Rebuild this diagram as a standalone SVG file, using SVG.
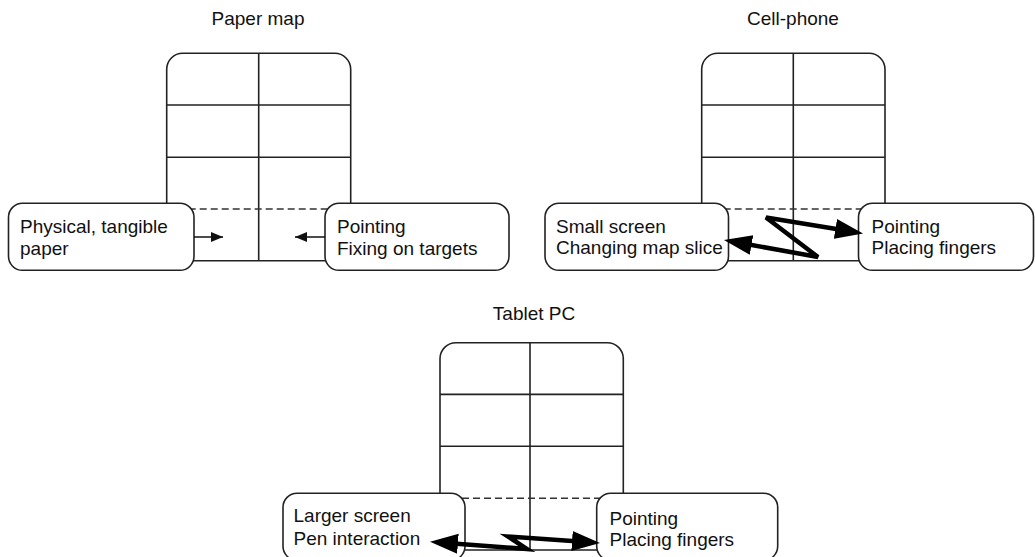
<svg xmlns="http://www.w3.org/2000/svg" width="1035" height="557" viewBox="0 0 1035 557">
  <style>
    .title { font-family: "Liberation Sans", Arial, sans-serif; font-size: 19px; fill: #111; }
    .label { font-family: "Liberation Sans", Arial, sans-serif; font-size: 19px; fill: #111; }
    .map { fill: #fff; stroke: #222; stroke-width: 1.6; }
    .grid { stroke: #222; stroke-width: 1.6; fill: none; }
    .fold { stroke: #333; stroke-width: 1.6; stroke-dasharray: 7 4; fill: none; }
    .box { fill: #fff; stroke: #222; stroke-width: 1.6; }
    .thin { stroke: #111; stroke-width: 1.5; fill: none; }
    .thick { stroke: #000; stroke-width: 4.5; fill: none; stroke-linejoin: miter; }
  </style>
  <defs>
    <marker id="headSmall" markerUnits="userSpaceOnUse" markerWidth="13" markerHeight="11" refX="12" refY="5.5" orient="auto-start-reverse">
      <path d="M0,0.5 L12,5.5 L0,10.5 Z" fill="#111"/>
    </marker>
    <marker id="headBig" markerUnits="userSpaceOnUse" markerWidth="30" markerHeight="22" refX="18" refY="10" orient="auto-start-reverse">
      <path d="M0,0 L28,10 L0,20 Z" fill="#000"/>
    </marker>
  </defs>

  <!-- Paper map -->
  <g id="paper-map">
    <text class="title" x="258" y="25" text-anchor="middle">Paper map</text>
    <rect class="map" x="166.7" y="53.3" width="184" height="207.4" rx="16"/>
    <path class="grid" d="M258.7,53.3 V260.7 M166.7,105 H350.7 M166.7,157.3 H350.7"/>
    <path class="fold" d="M166.7,209 H350.7"/>
  </g>
  <g id="paper-left">
    <rect class="box" x="8.5" y="203.3" width="185.5" height="67" rx="14"/>
    <text class="label" x="20" y="232.5">Physical, tangible</text>
    <text class="label" x="20" y="255">paper</text>
  </g>
  <g id="paper-right">
    <rect class="box" x="325" y="203.3" width="184" height="67" rx="14"/>
    <text class="label" x="337" y="232.5">Pointing</text>
    <text class="label" x="337" y="255">Fixing on targets</text>
  </g>

  <!-- Cell-phone -->
  <g id="cell-phone">
    <text class="title" x="793" y="25" text-anchor="middle">Cell-phone</text>
    <rect class="map" x="701.7" y="53.3" width="183.3" height="207.4" rx="16"/>
    <path class="grid" d="M793.3,53.3 V260.7 M701.7,105 H885 M701.7,157.3 H885"/>
    <path class="fold" d="M701.7,209 H885"/>
  </g>
  <g id="cell-left">
    <rect class="box" x="545" y="203.3" width="183.5" height="67" rx="14"/>
    <text class="label" x="556" y="233">Small screen</text>
    <text class="label" x="556" y="254">Changing map slice</text>
  </g>
  <g id="cell-right">
    <rect class="box" x="858.5" y="203.3" width="175" height="67" rx="14"/>
    <text class="label" x="871.5" y="232.5">Pointing</text>
    <text class="label" x="871.5" y="254">Placing fingers</text>
  </g>

  <!-- Tablet PC -->
  <g id="tablet-pc">
    <text class="title" x="534" y="320" text-anchor="middle">Tablet PC</text>
    <rect class="map" x="440" y="342.7" width="183.3" height="207.3" rx="16"/>
    <path class="grid" d="M530,342.7 V550 M440,394.4 H623.3 M440,446.2 H623.3"/>
    <path class="fold" d="M440,498.3 H623.3"/>
  </g>
  <g id="tablet-left">
    <rect class="box" x="283" y="493.3" width="182" height="67" rx="14"/>
    <text class="label" x="293.5" y="522">Larger screen</text>
    <text class="label" x="293.5" y="544.5">Pen interaction</text>
  </g>
  <g id="tablet-right">
    <rect class="box" x="596.7" y="493.3" width="181" height="67" rx="14"/>
    <text class="label" x="609.5" y="524.5">Pointing</text>
    <text class="label" x="609.5" y="545.5">Placing fingers</text>
  </g>

  <!-- Connectors -->
  <g id="connectors">
    <line class="thin" x1="194" y1="237" x2="223" y2="237" marker-end="url(#headSmall)"/>
    <line class="thin" x1="325" y1="237" x2="295" y2="237" marker-end="url(#headSmall)"/>
    <polyline class="thick" points="733.8,241.8 818,257 766,217.5 853.2,231.8" marker-start="url(#headBig)" marker-end="url(#headBig)"/>
    <polyline class="thick" points="440,542.4 527,549 508,536.5 590,542.3" marker-start="url(#headBig)" marker-end="url(#headBig)"/>
  </g>
</svg>
